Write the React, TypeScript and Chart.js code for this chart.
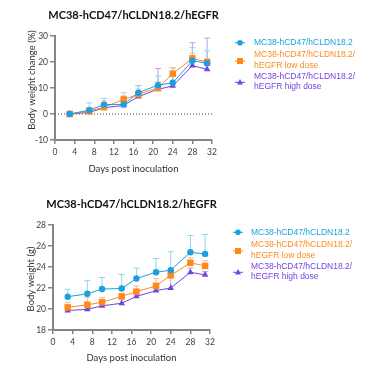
import React, { useEffect, useRef } from 'react';
import { Chart, registerables } from 'chart.js';

Chart.register(...registerables);

// ---------- data ----------
const days = [3, 7, 10, 14, 17, 21, 24, 28, 31];
const xTickValues = [0, 4, 8, 12, 16, 20, 24, 28, 32];

const seriesLabels = [
  ['MC38-hCD47/hCLDN18.2'],
  ['MC38-hCD47/hCLDN18.2/', 'hEGFR low dose'],
  ['MC38-hCD47/hCLDN18.2/', 'hEGFR high dose'],
];
const seriesColors = ['#1a9fe2', '#ff8a1c', '#7244e2'];
const errorColors = ['#92d2f2', '#ffbf8a', '#b8a0f0'];
const seriesShapes = ['circle', 'rect', 'triangle'];

const chartTitle = 'MC38-hCD47/hCLDN18.2/hEGFR';
const xAxisTitle = 'Days post inoculation';

// chart 1: body weight change (%)
const changeYTitle = 'Body weight change (%)';
const changeYTicks = [-10, 0, 10, 20, 30];
const changeBlue = [0, 1.5, 3.6, 3.7, 8.2, 11.1, 12.0, 20.5, 19.5];
const changeBlueErr = [0.3, 2.8, 2.4, 3.2, 2.7, 3.5, 4.3, 5.0, 4.8];
const changeOrange = [0, 1.1, 2.6, 5.6, 7.6, 10.1, 15.5, 21.4, 19.9];
const changeOrangeErr = [0.3, 1.5, 2.5, 2.6, 2.0, 2.3, 2.3, 2.0, 1.5];
const changePurple = [0, 0.6, 2.4, 3.3, 6.7, 9.5, 10.8, 18.6, 17.2];
const changePurpleErr = [0.2, 1.0, 2.0, 1.5, 4.2, 8.0, 7.0, 8.8, 12.0];

// chart 2: body weight (g)
const weightYTitle = 'Body weight (g)';
const weightYTicks = [18, 20, 22, 24, 26, 28];
const weightBlue = [21.17, 21.45, 21.9, 21.95, 22.9, 23.5, 23.7, 25.4, 25.25];
const weightBlueErr = [0.7, 1.25, 1.1, 1.35, 1.0, 1.3, 1.75, 1.6, 1.85];
const weightOrange = [20.15, 20.4, 20.65, 21.2, 21.65, 22.2, 23.2, 24.4, 24.1];
const weightOrangeErr = [0.5, 0.7, 0.45, 0.3, 0.55, 0.7, 0.4, 0.5, 0.5];
const weightPurple = [19.85, 19.97, 20.3, 20.55, 21.2, 21.75, 22.0, 23.5, 23.25];
const weightPurpleErr = [0.5, 0.3, 0.3, 0.4, 0.3, 0.3, 1.0, 0.4, 0.3];

type Spec = {
  height: number;
  area: { left: number; right: number; top: number; bottom: number };
  titleY: number;
  yTitle: string;
  yTitleX: number;
  yTitleY: number;
  xTitleY: number;
  values: number[][];
  errors: number[][];
  yTicks: number[];
  zeroLine: boolean;
  legend: { x1: number; x2: number; tx: number; markerY: number[]; textY: number[][] };
};

const AXIS_COLOR = '#858585';
const TEXT_COLOR = '#333333';

function drawMarker(ctx: CanvasRenderingContext2D, shape: string, x: number, y: number, color: string) {
  ctx.save();
  ctx.fillStyle = color;
  ctx.beginPath();
  if (shape === 'circle') {
    ctx.arc(x, y, 2.8, 0, Math.PI * 2);
  } else if (shape === 'rect') {
    ctx.rect(x - 3, y - 3, 6, 6);
  } else {
    ctx.moveTo(x, y - 3.2);
    ctx.lineTo(x + 3, y + 2.3);
    ctx.lineTo(x - 3, y + 2.3);
    ctx.closePath();
  }
  ctx.fill();
  ctx.restore();
}

function makeDecor(spec: Spec) {
  return {
    id: 'decor',
    beforeDatasetsDraw(chart: any) {
      const ctx: CanvasRenderingContext2D = chart.ctx;
      const xs = chart.scales.x;
      const ys = chart.scales.y;
      ctx.save();
      ctx.lineWidth = 1;
      for (let i = spec.values.length - 1; i >= 0; i--) {
        ctx.strokeStyle = errorColors[i];
        spec.values[i].forEach((v, j) => {
          const x = xs.getPixelForValue(days[j]);
          const y1 = ys.getPixelForValue(v);
          const y2 = ys.getPixelForValue(v + spec.errors[i][j]);
          ctx.beginPath();
          ctx.moveTo(x, y1);
          ctx.lineTo(x, y2);
          ctx.moveTo(x - 3, y2);
          ctx.lineTo(x + 3, y2);
          ctx.stroke();
        });
      }
      ctx.restore();
    },
    afterDraw(chart: any) {
      const ctx: CanvasRenderingContext2D = chart.ctx;
      const ca = chart.chartArea;
      ctx.save();
      // title
      ctx.fillStyle = '#111111';
      ctx.font = 'bold 11px Lato';
      ctx.textAlign = 'center';
      ctx.textBaseline = 'middle';
      ctx.fillText(chartTitle, (ca.left + ca.right) / 2, spec.titleY);
      // x title
      ctx.fillStyle = TEXT_COLOR;
      ctx.font = '9.5px Lato';
      ctx.fillText(xAxisTitle, (ca.left + ca.right) / 2, spec.xTitleY);
      // y title
      ctx.save();
      ctx.translate(spec.yTitleX, spec.yTitleY);
      ctx.rotate(-Math.PI / 2);
      ctx.fillText(spec.yTitle, 0, 0);
      ctx.restore();
      // legend
      const lg = spec.legend;
      seriesLabels.forEach((lines, i) => {
        const my = lg.markerY[i];
        ctx.strokeStyle = seriesColors[i];
        ctx.lineWidth = 1;
        ctx.beginPath();
        ctx.moveTo(lg.x1, my);
        ctx.lineTo(lg.x2, my);
        ctx.stroke();
        drawMarker(ctx, seriesShapes[i], (lg.x1 + lg.x2) / 2, my, seriesColors[i]);
        ctx.fillStyle = seriesColors[i];
        ctx.font = '8.5px "Liberation Sans"';
        ctx.textAlign = 'left';
        ctx.textBaseline = 'middle';
        lines.forEach((t, k) => ctx.fillText(t, lg.tx, lg.textY[i][k]));
      });
      ctx.restore();
    },
  };
}

function ChartPanel({ spec }: { spec: Spec }) {
  const ref = useRef<HTMLCanvasElement>(null);
  useEffect(() => {
    if (!ref.current) return;
    const datasets: any[] = spec.values.map((vals, i) => ({
      label: seriesLabels[i].join(' '),
      data: days.map((d, j) => ({ x: d, y: vals[j] })),
      borderColor: seriesColors[i],
      backgroundColor: seriesColors[i],
      borderWidth: 1,
      pointStyle: seriesShapes[i],
      pointRadius: i === 0 ? 3.2 : i === 1 ? 4.6 : 3.8,
      pointBorderWidth: 0,
      tension: 0,
    }));
    if (spec.zeroLine) {
      datasets.push({
        label: 'zero',
        data: [
          { x: xTickValues[0], y: 0 },
          { x: xTickValues[xTickValues.length - 1], y: 0 },
        ],
        borderColor: '#444444',
        borderWidth: 1,
        borderDash: [1, 2],
        pointRadius: 0,
      });
    }
    const a = spec.area;
    const chart = new Chart(ref.current, {
      type: 'line',
      data: { datasets },
      options: {
        animation: false,
        responsive: false,
        events: [],
        layout: { padding: { top: a.top, right: 376 - a.right, left: 0, bottom: 0 } },
        plugins: {
          legend: { display: false },
          title: { display: false },
          tooltip: { enabled: false },
        },
        scales: {
          x: {
            type: 'linear',
            min: xTickValues[0],
            max: xTickValues[xTickValues.length - 1],
            afterBuildTicks: (s: any) => {
              s.ticks = xTickValues.map((v) => ({ value: v }));
            },
            afterFit: (s: any) => {
              s.height = spec.height - a.bottom;
            },
            grid: { display: true, drawOnChartArea: false, drawTicks: true, tickLength: 4, color: AXIS_COLOR, lineWidth: 1.5 },
            border: { display: true, color: AXIS_COLOR, width: 2 },
            ticks: { font: { family: 'Lato', size: 8.5 }, color: '#404040', padding: 3, autoSkip: false, maxRotation: 0 },
          },
          y: {
            type: 'linear',
            min: spec.yTicks[0],
            max: spec.yTicks[spec.yTicks.length - 1],
            afterBuildTicks: (s: any) => {
              s.ticks = spec.yTicks.map((v) => ({ value: v }));
            },
            afterFit: (s: any) => {
              s.width = a.left;
            },
            grid: { display: true, drawOnChartArea: false, drawTicks: true, tickLength: 5, color: AXIS_COLOR, lineWidth: 1.5 },
            border: { display: true, color: AXIS_COLOR, width: 2 },
            ticks: { font: { family: 'Lato', size: 8.5 }, color: '#404040', padding: 2, autoSkip: false },
          },
        },
      } as any,
      plugins: [makeDecor(spec)],
    });
    return () => chart.destroy();
  }, [spec]);
  return <canvas ref={ref} width={376} height={spec.height} style={{ display: 'block', width: 376, height: spec.height }} />;
}

const topSpec: Spec = {
  height: 185,
  area: { left: 55, right: 212, top: 36, bottom: 140 },
  titleY: 15,
  yTitle: changeYTitle,
  yTitleX: 32,
  yTitleY: 80,
  xTitleY: 169,
  values: [changeBlue, changeOrange, changePurple],
  errors: [changeBlueErr, changeOrangeErr, changePurpleErr],
  yTicks: changeYTicks,
  zeroLine: true,
  legend: { x1: 235, x2: 245, tx: 254, markerY: [42.7, 61, 82.3], textY: [[42.7], [55, 65.7], [76.7, 86.7]] },
};

const bottomSpec: Spec = {
  height: 194,
  area: { left: 53, right: 210, top: 40, bottom: 145 },
  titleY: 19,
  yTitle: weightYTitle,
  yTitleX: 30.5,
  yTitleY: 94,
  xTitleY: 173,
  values: [weightBlue, weightOrange, weightPurple],
  errors: [weightBlueErr, weightOrangeErr, weightPurpleErr],
  yTicks: weightYTicks,
  zeroLine: false,
  legend: { x1: 233, x2: 243, tx: 251, markerY: [47.3, 66, 87.3], textY: [[47.3], [60, 70.7], [81.7, 91.7]] },
};

export default function App() {
  return (
    <div style={{ position: 'absolute', left: 0, top: 0, width: 376, height: 379, background: '#ffffff' }}>
      <ChartPanel spec={topSpec} />
      <ChartPanel spec={bottomSpec} />
    </div>
  );
}
